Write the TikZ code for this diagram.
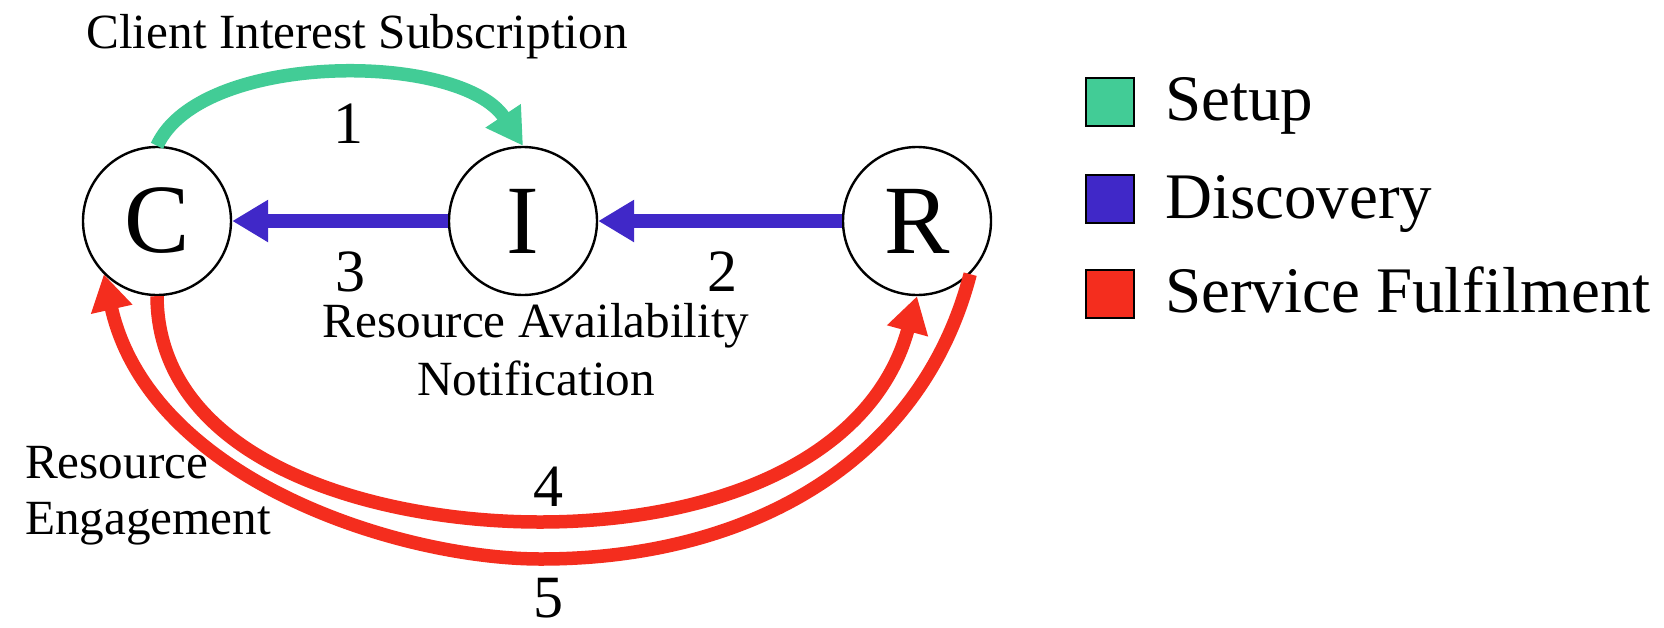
\documentclass[tikz,border=0pt]{standalone}
\usepackage{fontspec}
\setmainfont{Liberation Serif}
\usetikzlibrary{arrows.meta}
\definecolor{setupgreen}{RGB}{66,204,150}
\definecolor{discblue}{RGB}{64,40,200}
\definecolor{fulfred}{RGB}{244,45,30}

\begin{document}
\begin{tikzpicture}[x=0.5pt,y=-0.5pt,
  agent/.style={circle,draw=black,line width=1.2pt,minimum size=74pt,inner sep=0pt,
                font=\fontsize{49}{49}\selectfont},
  flow/.style={line width=6.75pt,-{Triangle[length=18pt,width=20pt]}},
  lbl/.style={font=\fontsize{24.6}{28}\selectfont},
  num/.style={font=\fontsize{30}{30}\selectfont,anchor=base,inner sep=0pt},
  key/.style={draw=black,line width=0.8pt,minimum size=24pt,inner sep=0pt},
  keytext/.style={font=\fontsize{32.5}{32.5}\selectfont,anchor=base west}]

\fill[white] (0,0) rectangle (1664,627);
\useasboundingbox (0,0) rectangle (1664,627);

% agents
\node[agent] (C) at (157,221) {C};
\node[agent] (I) at (523,221) {I};
\node[agent] (R) at (917,221) {R};

% setup: client subscribes at the intermediary
\draw[flow,setupgreen] (C.north) .. controls (200,51) and (460,51) .. (I.north);

% discovery: notifications travel back towards the client
\draw[flow,discblue] (R) -- (I);
\draw[flow,discblue] (I) -- (C);

% service fulfilment
\coordinate (b4) at (540,522);
\coordinate (b5) at (541,559);
\draw[flow,fulfred] (C.south) .. controls (158,462) and (375,522) .. (b4)
                              .. controls (712,522) and (872,461) .. (R.south);
\draw[flow,fulfred] (R.-45) .. controls (920,467) and (743,559) .. (b5)
                            .. controls (400,559) and (150,480) .. (C.-135);

% labels
\node[lbl,anchor=base] (tsub) at (357,48) {Client Interest Subscription};
\node[num] (n1) at (348,143) {1};
\node[num] (n3) at (350,291) {3};
\node[num] (n2) at (722,291) {2};
\node[lbl,anchor=base] (tav1) at (536,337) {Resource Availability};
\node[lbl,anchor=base] (tav2) at (536,395) {Notification};
\node[lbl,anchor=base west] (teng1) at (18,478) {Resource};
\node[lbl,anchor=base west] (teng2) at (18,534) {Engagement};
\node[num] (n4) at (548,506) {4};
\node[num] (n5) at (548,617) {5};

% legend
\node[key,fill=setupgreen] (k1) at (1110,102) {};
\node[keytext] (l1) at (1158,120) {Setup};
\node[key,fill=discblue] (k2) at (1110,199) {};
\node[keytext] (l2) at (1158,218) {Discovery};
\node[key,fill=fulfred] (k3) at (1110,294) {};
\node[keytext] (l3) at (1158,312) {Service Fulfilment};
\end{tikzpicture}
\end{document}
